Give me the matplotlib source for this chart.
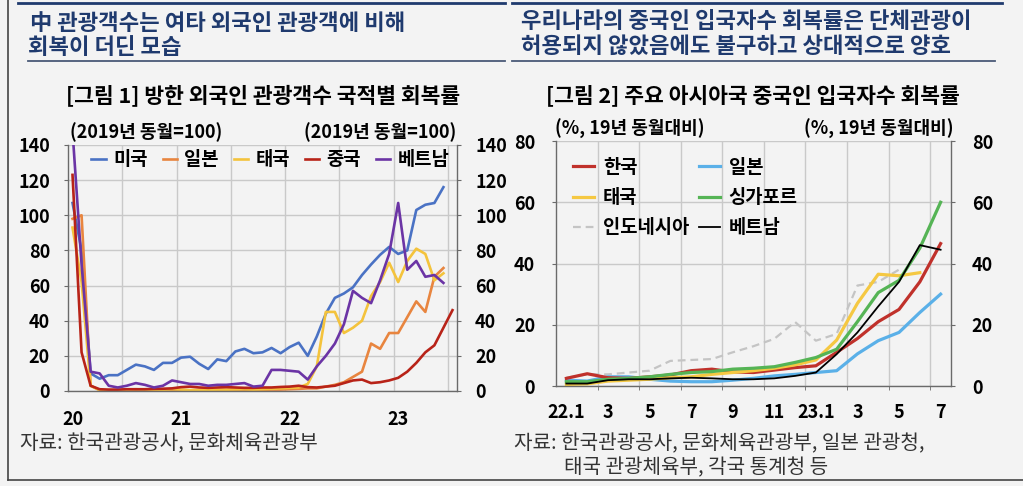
import numpy as np
import matplotlib
matplotlib.use("Agg")
from matplotlib import pyplot as plt
from matplotlib.lines import Line2D

plt.rcParams['font.family'] = ['Noto Sans CJK KR', 'DejaVu Sans']

# ---- left chart: monthly, Jan 2020 .. Jul 2023 (2019 same month = 100)
left_tick_labels = ['20', '21', '22', '23']
usa = [107, 80, 10, 7, 9, 9, 12, 15, 14, 12, 16, 16, 19, 19.5, 15.5, 12.5, 18, 17,
       22.5, 24, 21.5, 22, 24.5, 21.5, 25, 27.5, 20, 31, 44, 53, 55.5, 59, 66, 72,
       77.5, 82, 78, 80, 103, 106, 107, 116]
japan = [98, 100, 3, 0.5, 0.3, 0.3, 0.4, 0.5, 0.5, 0.4, 0.5, 0.6, 0.5, 0.4, 0.4, 0.5,
         0.5, 0.5, 0.6, 0.6, 0.5, 0.6, 0.8, 0.8, 1, 1.2, 1.5, 1.5, 2.5, 3.5, 5, 8, 11,
         27, 24, 33, 33, 42, 51, 45, 65, 70]
thailand = [93, 62, 3, 0.5, 0.5, 0.5, 0.8, 1, 0.8, 0.7, 0.8, 1, 0.8, 0.5, 0.6, 0.7,
            0.8, 0.8, 0.9, 1, 0.8, 1, 1.2, 1.5, 1.8, 2, 4, 14, 45, 45, 33, 36, 40, 54,
            62, 73, 62, 74, 81, 78, 63, 67]
china = [123, 22, 3, 1, 0.8, 0.8, 1, 1, 1, 1.2, 1.3, 1.5, 2.2, 2.5, 2, 1.8, 2, 2.2,
         2, 1.8, 1.8, 2, 2, 2.3, 2.5, 3, 2.2, 2, 2.5, 3, 4.5, 6, 6.5, 4.5, 5, 6, 7.5,
         11, 16, 22, 26, 36, 46]
vietnam = [148, 72, 11, 10, 3, 2, 3, 4.5, 3.5, 2, 3, 6, 5, 4, 4, 3, 3.5, 3.5, 4, 4.5,
           2.5, 3, 12, 12, 11.5, 11, 6.5, 14, 20, 27, 38, 57, 53, 50, 63, 78, 107, 69,
           74, 65, 66, 61.5]

# ---- right chart: monthly, Jan 2022 .. Jul 2023 (% of same month 2019)
right_tick_labels = ['22.1', '3', '5', '7', '9', '11', '23.1', '3', '5', '7']
r_korea = [2.5, 4, 2.7, 2.5, 3, 3.6, 5, 5.5, 4.6, 4.4, 5.2, 6, 6.6, 11, 15.5, 21, 25,
           34, 46.5]
r_japan = [1.9, 1.6, 3, 3, 2.2, 1.6, 1.4, 1.4, 1.9, 2.5, 3.3, 3.8, 4.4, 5, 10.5, 14.8,
           17.5, 24, 30]
r_thai = [0.5, 0.7, 1.6, 1.9, 2.2, 2.7, 3, 3.8, 4.4, 5, 5.8, 6.9, 8.5, 15, 27, 36.5,
          36, 37]
r_singapore = [1.4, 1.4, 2.2, 2.5, 3, 3.8, 4.4, 4.7, 5.5, 5.8, 6.3, 7.7, 9.3, 12, 21,
               30.5, 34.5, 45, 60]
r_indonesia = [2.7, 3.8, 3.8, 4.4, 5, 8.2, 8.5, 8.8, 11, 13, 15.4, 20.9, 14.8, 17,
               32.8, 34, 38]
r_vietnam = [0.8, 0.8, 1.9, 2.2, 2.2, 2.5, 2.7, 2.5, 2.2, 2.2, 2.5, 3.3, 4.4, 10.4,
             17.5, 26, 34, 46, 44.5]

W, H = 1023, 486
BG = '#f3f3f3'
NAVY = '#1f3a6e'
GRID = '#c9c9c9'
SPINE = '#6a6a6a'

fig = plt.figure(figsize=(W / 100, H / 100), dpi=100, facecolor=BG)


def fx(px):
    return px / W


def fy(py):
    return 1 - py / H


def hline(x0, x1, y, color, lw):
    fig.add_artist(Line2D([fx(x0), fx(x1)], [fy(y), fy(y)], color=color, lw=lw,
                          transform=fig.transFigure))


# frame and header rules
fig.add_artist(Line2D([fx(8), fx(8)], [fy(0), fy(480)], color='#444', lw=1.2,
                      transform=fig.transFigure))
hline(8, 1023, 480, '#444', 1.2)
hline(18, 505, 3, NAVY, 2)
hline(512, 1002, 3, NAVY, 2)
hline(28, 505, 61, '#4a5a78', 1.3)
hline(512, 995, 61, '#4a5a78', 1.3)

# headers
head = dict(color=NAVY, fontsize=16, fontweight='bold', va='center', ha='left')
fig.text(fx(30), fy(23), '中 관광객수는 여타 외국인 관광객에 비해', **head)
fig.text(fx(28), fy(47), '회복이 더딘 모습', **head)
fig.text(fx(521), fy(22), '우리나라의 중국인 입국자수 회복률은 단체관광이', **head)
fig.text(fx(521), fy(46), '허용되지 않았음에도 불구하고 상대적으로 양호', **head)

sub = dict(color='black', fontsize=15.5, fontweight='bold', va='center', ha='center')
fig.text(fx(263), fy(95), '[그림 1] 방한 외국인 관광객수 국적별 회복률', **sub)
fig.text(fx(753), fy(95), '[그림 2] 주요 아시아국 중국인 입국자수 회복률', **sub)

unit = dict(color='black', fontsize=13, fontweight='bold', va='center')
fig.text(fx(70), fy(132), '(2019년 동월=100)', ha='left', **unit)
fig.text(fx(456), fy(132), '(2019년 동월=100)', ha='right', **unit)
fig.text(fx(555), fy(129), '(%, 19년 동월대비)', ha='left', **unit)
fig.text(fx(953), fy(129), '(%, 19년 동월대비)', ha='right', **unit)

src = dict(color='#333333', fontsize=14.5, va='center', ha='left')
fig.text(fx(20), fy(444), '자료: 한국관광공사, 문화체육관광부', **src)
fig.text(fx(514), fy(444), '자료: 한국관광공사, 문화체육관광부, 일본 관광청,', **src)
fig.text(fx(564), fy(468), '태국 관광체육부, 각국 통계청 등', **src)


def style_axes(ax):
    ax.set_facecolor(BG)
    ax.spines['top'].set_visible(False)
    for s in ('left', 'right', 'bottom'):
        ax.spines[s].set_color(SPINE)
        ax.spines[s].set_linewidth(1)
    ax.grid(True, which='minor', axis='x', color=GRID, lw=1)
    ax.grid(True, which='major', axis='y', color=GRID, lw=1)
    ax.set_axisbelow(True)
    for lab in ax.get_xticklabels() + ax.get_yticklabels():
        lab.set_fontweight('bold')


# ---- left chart
ax1 = fig.add_axes([fx(68), fy(391), 389 / W, 246 / H])
series_left = [('미국', usa, '#4a72c4'), ('일본', japan, '#e8853f'),
               ('태국', thailand, '#f4c33c'), ('중국', china, '#b82318'),
               ('베트남', vietnam, '#6b34a5')]
for name, vals, col in series_left:
    ax1.plot(np.arange(len(vals)), vals, color=col, lw=1.9, label=name)
ax1.set_xlim(-0.5, 42.5)
ax1.set_ylim(0, 140)
ax1.set_yticks(np.arange(0, 141, 20))
ax1.set_xticks([0, 12, 24, 36])
ax1.set_xticklabels(left_tick_labels)
ax1.set_xticks(np.arange(5.5, 42, 6), minor=True)
ax1.tick_params(axis='y', left=True, right=True, labelleft=True, labelright=True,
                direction='out', length=3, color=SPINE, labelsize=13, pad=10)
ax1.tick_params(axis='x', which='both', length=0, labelsize=13, pad=14)
style_axes(ax1)
ax1.legend(loc='center', bbox_to_anchor=(0.52, 0.94), ncol=5, frameon=False,
           handlelength=0.75, handletextpad=0.4, columnspacing=0.8,
           prop=dict(weight='bold', size=13.5))

# ---- right chart
ax2 = fig.add_axes([fx(556), fy(386), 395 / W, 245 / H])
h_ind, = ax2.plot(np.arange(len(r_indonesia)), r_indonesia, color='#c4c4c4', lw=1.6,
                  dashes=(3.5, 2.2), label='인도네시아')
h_jp, = ax2.plot(np.arange(len(r_japan)), r_japan, color='#5ab0e8', lw=2.3, label='일본')
h_kr, = ax2.plot(np.arange(len(r_korea)), r_korea, color='#c0312b', lw=2.3, label='한국')
h_th, = ax2.plot(np.arange(len(r_thai)), r_thai, color='#f5c842', lw=2.3, label='태국')
h_sg, = ax2.plot(np.arange(len(r_singapore)), r_singapore, color='#55b455', lw=2.3,
                 label='싱가포르')
h_vn, = ax2.plot(np.arange(len(r_vietnam)), r_vietnam, color='black', lw=1.3,
                 label='베트남')
ax2.set_xlim(-0.5, 18.5)
ax2.set_ylim(0, 80)
ax2.set_yticks(np.arange(0, 81, 20))
ax2.set_xticks(np.arange(0, 19, 2))
ax2.set_xticklabels(right_tick_labels)
ax2.set_xticks(np.arange(1.5, 18, 2), minor=True)
ax2.tick_params(axis='y', left=True, right=True, labelleft=True, labelright=True,
                direction='out', length=3, color=SPINE, labelsize=13, pad=12)
ax2.tick_params(axis='x', which='major', length=0, labelsize=13, pad=12)
ax2.tick_params(axis='x', which='minor', direction='out', length=3, color=SPINE)
style_axes(ax2)
ax2.legend(handles=[h_kr, h_th, h_ind, h_jp, h_sg, h_vn], loc='upper left',
           bbox_to_anchor=(0.0, 1.0), ncol=2, frameon=False, handlelength=1.15,
           handletextpad=0.45, columnspacing=0.5, labelspacing=0.6,
           prop=dict(weight='bold', size=13.5))

fig.savefig('out.png', dpi=100, facecolor=BG)
plt.close(fig)
